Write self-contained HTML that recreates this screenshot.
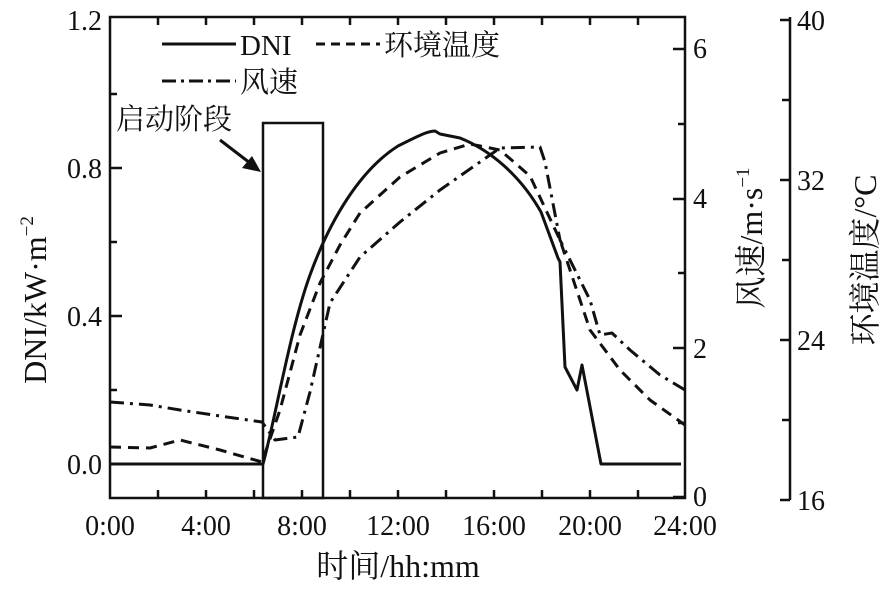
<!DOCTYPE html>
<html><head><meta charset="utf-8"><style>
body{margin:0;background:#fff}
svg text{font-family:"Liberation Serif","Noto Serif CJK SC",serif;fill:#111}
</style></head><body>
<svg width="886" height="588" viewBox="0 0 886 588" xmlns="http://www.w3.org/2000/svg">
<g stroke="#111" fill="none" stroke-width="2.5">
<rect x="110" y="17" width="575" height="481"/>
<path d="M158 498v-8M206 498v-8M254 498v-8M302 498v-8M350 498v-8M398 498v-8M446 498v-8M494 498v-8M542 498v-8M590 498v-8M638 498v-8
M158 17v8M206 17v8M254 17v8M302 17v8M350 17v8M398 17v8M446 17v8M494 17v8M542 17v8M590 17v8M638 17v8"/>
<path d="M110 464h12M110 390h7M110 316h12M110 242h7M110 168h12M110 94h7"/>
<path d="M685 497h-12M685 423h-7M685 348h-12M685 273h-7M685 199h-12M685 124h-7M685 49h-12"/>
<path d="M790 17V500M790 20h-10M790 100h-8M790 180h-10M790 260h-8M790 340h-10M790 420h-8M790 500h-10"/>
<rect x="263" y="123" width="60" height="375"/>
</g>
<path d="M220 140L250 163" stroke="#111" stroke-width="3"/>
<path d="M261 172L242 168L252 156Z" fill="#111"/>
<g fill="none" stroke="#111" stroke-width="3" stroke-linejoin="round">
<path d="M110 464H263C275 420 290 330 310 275C330 220 360 170 398 146C420 135 428 131 435 131L440 134L460 138C490 150 520 175 541 212L558 258L560 262L565 367L577 390L582 365L601 464H681"/>
<path stroke-dasharray="11,7" d="M110 447L150 448L180 440L220 450L262 462L280 410L300 335L320 283L340 245L360 213L400 177L440 153L470 144L500 150L530 176L560 240L590 330L620 370L650 400L685 425"/>
<path stroke-dasharray="14,6,3,6" d="M110 402L150 405L180 410L220 416L262 422L275 440L298 437L310 392L330 303L360 257L400 222L440 190L480 162L500 148L540 147L545 162L560 240L590 300L600 335L612 333L630 350L660 375L685 390"/>
</g>
<g stroke="#111" stroke-width="3">
<path d="M162 44H236"/>
<path d="M316 44H380" stroke-dasharray="9,6"/>
<path d="M162 81H236" stroke-dasharray="14,5,3,5"/>
</g>
<g font-size="29">
<text x="240" y="55">DNI</text>
<text x="384" y="55">环境温度</text>
<text x="240" y="92">风速</text>
<text x="116" y="129">启动阶段</text>
</g>
<g font-size="28">
<text x="102" y="30" text-anchor="end">1.2</text>
<text x="102" y="178" text-anchor="end">0.8</text>
<text x="102" y="326" text-anchor="end">0.4</text>
<text x="102" y="474" text-anchor="end">0.0</text>
<text x="693" y="58">6</text>
<text x="693" y="208">4</text>
<text x="693" y="358">2</text>
<text x="693" y="506">0</text>
<text x="797" y="30">40</text>
<text x="797" y="190">32</text>
<text x="797" y="350">24</text>
<text x="797" y="510">16</text>
<text x="110" y="535" text-anchor="middle">0:00</text>
<text x="206" y="535" text-anchor="middle">4:00</text>
<text x="302" y="535" text-anchor="middle">8:00</text>
<text x="398" y="535" text-anchor="middle">12:00</text>
<text x="494" y="535" text-anchor="middle">16:00</text>
<text x="590" y="535" text-anchor="middle">20:00</text>
<text x="685" y="535" text-anchor="middle">24:00</text>
</g>
<g font-size="32">
<text x="398" y="577" text-anchor="middle">时间/hh:mm</text>
<text transform="translate(46,300) rotate(-90)" text-anchor="middle">DNI/kW·m<tspan font-size="19" dy="-13">−2</tspan></text>
<text transform="translate(762,238) rotate(-90)" text-anchor="middle">风速/m·s<tspan font-size="19" dy="-13">−1</tspan></text>
<text transform="translate(876,260) rotate(-90)" text-anchor="middle">环境温度/°C</text>
</g>
</svg>
</body></html>
